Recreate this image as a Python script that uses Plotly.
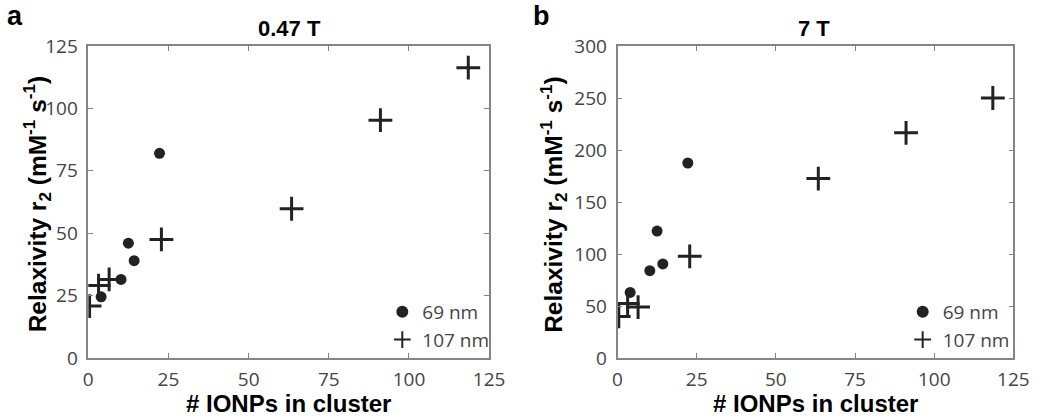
import plotly.graph_objects as go

# Data
x_69 = [4.0, 10.2, 12.5, 14.3, 22.2]
r2_69_047T = [24.5, 31.5, 46.0, 39.0, 82.0]
r2_69_7T = [63.0, 84.0, 122.0, 90.5, 187.5]

x_107 = [0.4, 3.2, 6.5, 22.8, 63.4, 91.1, 118.5]
r2_107_047T = [20.8, 29.0, 31.5, 47.5, 59.8, 95.3, 116.3]
r2_107_7T = [40.0, 52.5, 49.0, 97.8, 172.5, 216.5, 250.0]

x_ticks = [0, 25, 50, 75, 100, 125]
y_ticks_a = [0, 25, 50, 75, 100, 125]
y_ticks_b = [0, 50, 100, 150, 200, 250, 300]

labels = ["69 nm", "107 nm"]
panel_titles = ["0.47 T", "7 T"]
panel_letters = ["a", "b"]
x_title = "# IONPs in cluster"
y_title = "Relaxivity r<sub>2</sub> (mM<sup>-1</sup> s<sup>-1</sup>)"

W, H = 1050, 416
MT, MB = 46, 58
TICK_FONT = dict(family="Open Sans, Noto Sans, sans-serif", size=19, color="#444444")
BOLD = "Liberation Sans, Arial, sans-serif"
AXCOL = "#858585"

fig = go.Figure()

circle_marker = dict(symbol="circle", size=11, color="#222222")
cross_marker = dict(symbol="cross-thin", size=17, line=dict(width=3, color="#222222"), color="#222222")

fig.add_trace(go.Scatter(x=x_69, y=r2_69_047T, mode="markers", name=labels[0],
                         marker=circle_marker, xaxis="x", yaxis="y", legend="legend"))
fig.add_trace(go.Scatter(x=x_107, y=r2_107_047T, mode="markers", name=labels[1],
                         marker=cross_marker, xaxis="x", yaxis="y", legend="legend"))
fig.add_trace(go.Scatter(x=x_69, y=r2_69_7T, mode="markers", name=labels[0],
                         marker=circle_marker, xaxis="x2", yaxis="y2", legend="legend2"))
fig.add_trace(go.Scatter(x=x_107, y=r2_107_7T, mode="markers", name=labels[1],
                         marker=cross_marker, xaxis="x2", yaxis="y2", legend="legend2"))

dom_a = [85 / W, 494 / W]
dom_b = [625 / W, 1029 / W]

def xaxis(domain, anchor):
    return dict(domain=domain, anchor=anchor, range=[0, 125], tickvals=x_ticks,
                showline=True, mirror="ticks", linecolor=AXCOL, linewidth=1.5,
                ticks="inside", ticklen=5, tickcolor=AXCOL, tickwidth=1.2,
                showgrid=False, zeroline=False, tickfont=TICK_FONT, ticklabelstandoff=3)

def yaxis(rng, ticks, anchor):
    return dict(domain=[0, 1], anchor=anchor, range=rng, tickvals=ticks,
                showline=True, mirror="ticks", linecolor=AXCOL, linewidth=1.5,
                ticks="inside", ticklen=5, tickcolor=AXCOL, tickwidth=1.2,
                showgrid=False, zeroline=False, tickfont=TICK_FONT, ticklabelstandoff=5)

plot_h = H - MT - MB

def py(pix):
    return (H - MB - pix) / plot_h

legend_common = dict(bgcolor="rgba(0,0,0,0)", borderwidth=0,
                     font=dict(family="Open Sans, Noto Sans, sans-serif", size=19, color="#444444"),
                     xanchor="left", yanchor="top", y=py(293), itemsizing="constant",
                     tracegroupgap=0)

fig.update_layout(
    width=W, height=H,
    margin=dict(l=0, r=0, t=MT, b=MB),
    paper_bgcolor="white", plot_bgcolor="white",
    xaxis=xaxis(dom_a, "y"),
    yaxis=yaxis([0, 125], y_ticks_a, "x"),
    xaxis2=xaxis(dom_b, "y2"),
    yaxis2=yaxis([0, 300], y_ticks_b, "x2"),
    legend=dict(x=385 / W, **legend_common),
    legend2=dict(x=916 / W, **legend_common),
)

annotations = []
title_x = [290, 825]
ytitle_x = [32, 559]
letter_xy = [(10, 16), (547, 16)]
for i, (dom, title, letter) in enumerate(zip([dom_a, dom_b], panel_titles, panel_letters)):
    cx = (dom[0] + dom[1]) / 2
    annotations.append(dict(text=f"<b>{title}</b>", x=title_x[i] / W, y=py(29), xref="paper", yref="paper",
                            showarrow=False, font=dict(family=BOLD, size=22, color="black"),
                            xanchor="center", yanchor="middle"))
    annotations.append(dict(text=f"<b>{x_title}</b>", x=cx, y=py(403), xref="paper", yref="paper",
                            showarrow=False, font=dict(family=BOLD, size=24, color="black"),
                            xanchor="center", yanchor="middle"))
    annotations.append(dict(text=f"<b>{y_title}</b>", x=ytitle_x[i] / W, y=py(204), xref="paper", yref="paper",
                            showarrow=False, textangle=-90,
                            font=dict(family=BOLD, size=24.5, color="black"),
                            xanchor="center", yanchor="middle"))
    annotations.append(dict(text=f"<b>{letter}</b>", x=letter_xy[i][0] / W, y=py(letter_xy[i][1]),
                            xref="paper", yref="paper",
                            showarrow=False, font=dict(family=BOLD, size=27, color="black"),
                            xanchor="center", yanchor="middle"))

fig.update_layout(annotations=annotations)
fig.write_html("out.html",
               config={"displayModeBar": False},
               post_script="document.body.style.margin='0';document.body.style.overflow='hidden';")
